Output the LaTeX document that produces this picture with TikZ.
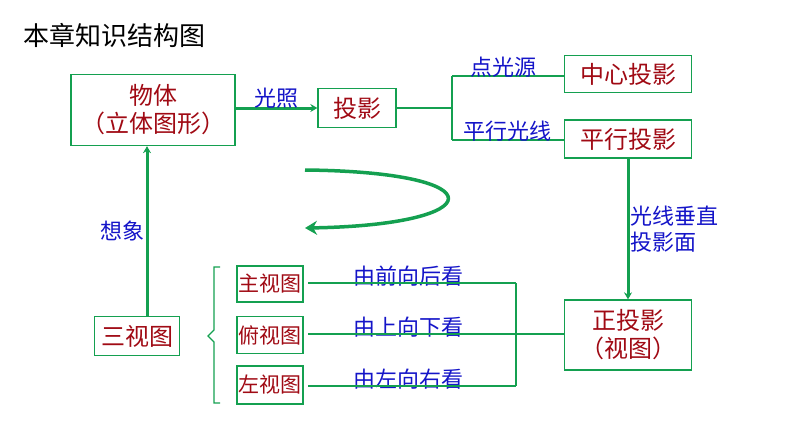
\documentclass[tikz,border=0pt]{standalone}
\usepackage{fontspec}
\newfontfamily\cjk{Noto Sans CJK SC}
\usetikzlibrary{arrows.meta}
\definecolor{gr}{RGB}{20,160,80}
\definecolor{rd}{RGB}{160,10,20}
\definecolor{bl}{RGB}{20,20,200}
\begin{document}
\begin{tikzpicture}[x=1pt,y=-1pt,
 bx/.style={draw=gr,line width=1.3pt,text=rd,font=\cjk\fontsize{24}{28}\selectfont,align=center,inner sep=0pt},
 sbx/.style={bx,font=\cjk\fontsize{21}{25}\selectfont},
 lb/.style={text=bl,font=\cjk\fontsize{22}{26}\selectfont,align=left,inner sep=1pt},
 ln/.style={gr,line width=1.5pt},
 ar/.style={gr,line width=3pt,-{Stealth[length=7pt,width=8pt]}}]
\useasboundingbox (0,0) rectangle (794,447);
\node[anchor=west,font=\cjk\fontsize{26}{30}\selectfont] (title) at (20,35) {本章知识结构图};
\node[bx,minimum width=164,minimum height=71] (wt) at (153,110) {物体\\（立体图形）};
\node[bx,minimum width=78,minimum height=39] (ty) at (357,108) {投影};
\node[bx,minimum width=127,minimum height=37] (zx) at (628,74) {中心投影};
\node[bx,minimum width=127,minimum height=38] (px) at (628,139) {平行投影};
\node[bx,minimum width=127,minimum height=70] (zt) at (628,335) {正投影\\（视图）};
\node[bx,minimum width=85,minimum height=39] (sst) at (137,336) {三视图};
\node[sbx,minimum width=66,minimum height=36] (zs) at (270,284) {主视图};
\node[sbx,minimum width=66,minimum height=37] (fs) at (270,335) {俯视图};
\node[sbx,minimum width=66,minimum height=38] (zuo) at (270,385) {左视图};
\draw[ar] (wt.east|-ty) -- (ty.west) node[lb,midway,above=-3pt] {光照};
\coordinate (j1) at (452,108);
\draw[ln] (ty.east) -- (j1);
\draw[ln] (452,76) -- (452,140);
\draw[ln] (452,76) -- (zx.west|-452,76) node[lb,midway,above=-3pt,xshift=-4] {点光源};
\draw[ln] (452,140) -- (px.west|-452,140) node[lb,midway,above=-3pt] {平行光线};
\draw[ar] (px.south) -- (zt.north) node[lb,midway,right=0pt] {光线垂直\\投影面};
\draw[ar] (sst.north-|147,0) -- (wt.south-|147,0) node[lb,midway,left=0pt] {想象};
\draw[gr,line width=1.3pt] (220,267) -- (214,267) -- (214,330) -- (208,336) -- (214,342) -- (214,403) -- (220,403);
\coordinate (a1) at (308,283); \coordinate (b1) at (516,283);
\coordinate (a2) at (308,334); \coordinate (a3) at (308,386); \coordinate (b3) at (516,386);
\node[lb,anchor=south west] (l1) at (352,287) {由前向后看};
\node[lb,anchor=south west] (l2) at (352,338) {由上向下看};
\node[lb,anchor=south west] (l3) at (352,390) {由左向右看};
\draw[ln] (a1) -- (b1);
\draw[ln] (a2) -- (zt.west|-a2);
\draw[ln] (a3) -- (b3);
\draw[ln] (b1) -- (b3);
\draw[gr,line width=3.5pt,-{Stealth[length=12pt,width=14pt]}] (305,170) .. controls (500,172) and (490,225) .. (305,228);
\end{tikzpicture}
\end{document}
